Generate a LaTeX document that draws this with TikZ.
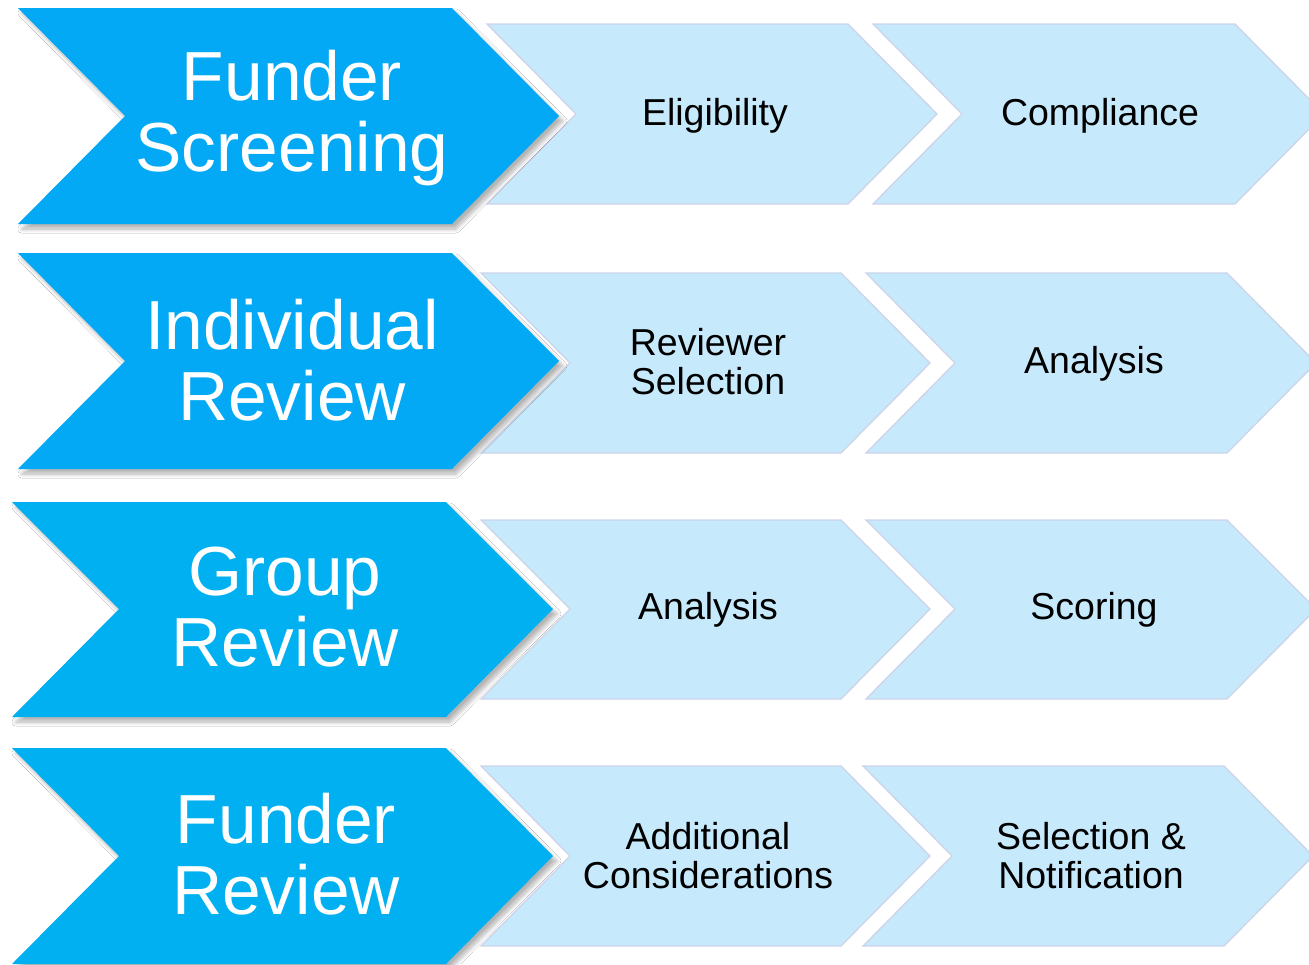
\documentclass[tikz,border=0pt]{standalone}
\usepackage{fontspec}
\setmainfont{Liberation Sans}
\usetikzlibrary{shadows.blur}
\definecolor{darkA}{HTML}{03A9F4}
\definecolor{darkB}{HTML}{00B0F0}
\definecolor{lightfill}{HTML}{C6E9FB}
\definecolor{lightline}{HTML}{CDD4EA}
\newcommand\mychev[7]{\path[#1] (#2,#4) -- (#3,#4) -- ({#3+#7},#5) -- (#3,#6) -- (#2,#6) -- ({#2+#7},#5) -- cycle;}
\begin{document}
\begin{tikzpicture}[x=1pt,y=-1pt,
  phase/.style={fill=#1, blur shadow={shadow xshift=4pt, shadow yshift=-5pt, shadow blur radius=4pt, shadow blur steps=10, shadow opacity=30}},
  stepshape/.style={fill=lightfill, draw=lightline, line width=1.3pt},
  phasetext/.style={text=white, align=center, font=\fontsize{69.5}{71}\selectfont, inner sep=0pt},
  steptext/.style={text=black, align=center, font=\fontsize{37.5}{39}\selectfont, inner sep=0pt}]
\useasboundingbox (0,0) rectangle (1309,964);
\clip (0,0) rectangle (1309,964);
\fill[white] (0,0) rectangle (1309,964);
% light chevrons
\mychev{stepshape}{487}{848}{24}{114}{204}{89}
\mychev{stepshape}{873}{1235}{24}{114}{204}{89}
\mychev{stepshape}{481}{841}{273}{363}{453}{89}
\mychev{stepshape}{866}{1227}{273}{363}{453}{89}
\mychev{stepshape}{481}{841}{520}{609}{699}{89}
\mychev{stepshape}{866}{1227}{520}{609}{699}{89}
\mychev{stepshape}{481}{841}{766}{856}{946}{89}
\mychev{stepshape}{863}{1224}{766}{856}{946}{89}
% dark chevrons
\mychev{phase=darkA}{18}{452}{8}{116}{224}{107}
\mychev{phase=darkA}{18}{452}{253}{361}{469}{107}
\mychev{phase=darkB}{12}{446}{502}{609}{717}{107}
\mychev{phase=darkB}{12}{446}{748}{856}{964}{107}
% texts
\node[phasetext] (p1) at (292,118) {Funder\\Screening};
\node[phasetext] (p2) at (292,360) {Individual\\Review};
\node[phasetext] (p3) at (285,607) {Group\\Review};
\node[phasetext] (p4) at (286,854) {Funder\\Review};
\node[steptext] (s11) at (715,116) {Eligibility};
\node[steptext] (s12) at (1100,116) {Compliance};
\node[steptext] (s21) at (708,362) {Reviewer\\Selection};
\node[steptext] (s22) at (1094,364) {Analysis};
\node[steptext] (s31) at (708,610) {Analysis};
\node[steptext] (s32) at (1094,610) {Scoring};
\node[steptext] (s41) at (708,856) {Additional\\Considerations};
\node[steptext] (s42) at (1091,856) {Selection \&\\Notification};
\end{tikzpicture}
\end{document}
